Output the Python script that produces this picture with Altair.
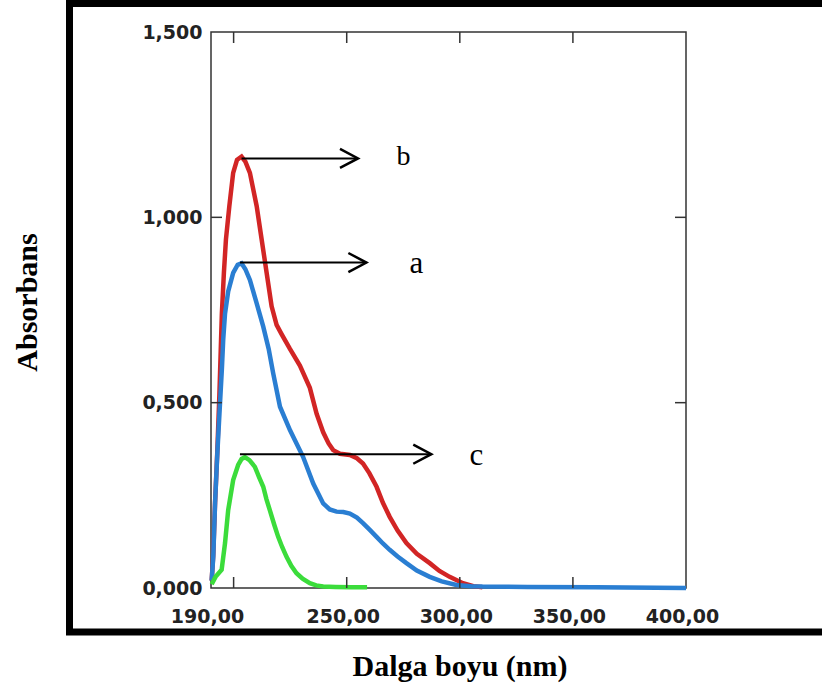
import altair as alt
import pandas as pd

# Absorption spectra (wavelength in nm, absorbance)
b_nm = [190.3, 191.0, 191.8, 192.8, 193.7, 194.3, 194.8, 195.7, 196.6, 198.1, 199.8, 201.5,
        203.5, 205.2, 207.2, 210.2, 212.4, 214.6, 216.8, 219.0, 221.2, 224.9, 229.3, 233.7,
        236.7, 239.6, 242.0, 244.0, 247.0, 251.4, 254.5, 257.2, 260.0, 263.2, 266.0, 269.0,
        272.5, 276.4, 281.0, 286.7, 291.0, 295.5, 301.4, 306.0, 310.0]
b_abs = [0.02, 0.09, 0.23, 0.37, 0.52, 0.64, 0.74, 0.85, 0.94, 1.03, 1.12, 1.155,
         1.164, 1.15, 1.12, 1.03, 0.94, 0.85, 0.76, 0.71, 0.685, 0.645, 0.60, 0.54,
         0.47, 0.42, 0.39, 0.372, 0.362, 0.359, 0.35, 0.336, 0.31, 0.273, 0.23, 0.192,
         0.155, 0.121, 0.092, 0.067, 0.046, 0.030, 0.013, 0.005, 0.002]

a_nm = [190.3, 191.0, 191.8, 192.8, 194.0, 194.8, 195.4, 196.2, 197.6, 199.8, 201.8, 203.5,
        205.2, 207.2, 210.2, 213.1, 215.5, 217.5, 220.5, 224.9, 230.7, 235.2, 239.6, 242.5,
        245.5, 248.5, 251.4, 254.5, 257.2, 260.0, 263.2, 266.0, 269.0, 272.5, 276.4, 281.0,
        286.7, 292.0, 298.5, 305.0, 310.0, 330.0, 360.0, 400.0]
a_abs = [0.02, 0.084, 0.23, 0.364, 0.50, 0.59, 0.67, 0.74, 0.80, 0.85, 0.872, 0.876,
         0.86, 0.831, 0.768, 0.705, 0.645, 0.579, 0.489, 0.426, 0.354, 0.282, 0.228, 0.212,
         0.206, 0.205, 0.201, 0.19, 0.175, 0.158, 0.138, 0.12, 0.103, 0.085, 0.067, 0.047,
         0.030, 0.018, 0.008, 0.005, 0.004, 0.003, 0.002, 0.0]

c_nm = [190.3, 192.0, 194.7, 196.2, 197.6, 199.8, 202.0, 203.5, 205.0, 207.0, 209.4, 211.2,
        213.1, 214.5, 216.0, 218.0, 219.7, 221.5, 223.4, 225.5, 227.8, 230.5, 233.7, 236.5,
        239.6, 245.0, 252.0, 259.0]
c_abs = [0.01, 0.03, 0.049, 0.121, 0.21, 0.291, 0.332, 0.348, 0.353, 0.345, 0.327, 0.30,
         0.273, 0.24, 0.21, 0.17, 0.138, 0.11, 0.084, 0.06, 0.040, 0.025, 0.013, 0.007,
         0.004, 0.003, 0.002, 0.002]

series_names = ["b", "a", "c"]
series_colors = ["#d22525", "#2a7ed2", "#3bdc3b"]

# Peak markers: arrow from the peak to the right, then the letter
arrow_name = ["b", "a", "c"]
arrow_start = [203.5, 202.8, 202.8]
arrow_end = [255.0, 258.7, 287.4]
arrow_y = [1.159, 0.878, 0.361]
label_x = [275.1, 280.8, 307.3]
label_y = [1.164, 0.874, 0.356]
label_size = [28, 31, 31]

x_label_values = [190, 250, 300, 350, 400]
x_tick_values = [200, 250, 300, 350]
y_label_values = [0.0, 0.5, 1.0, 1.5]
y_tick_values = [0.5, 1.0]

W, H = 475, 556
TICK = 11

rows = []
for name, xs, ys in [("b", b_nm, b_abs), ("a", a_nm, a_abs), ("c", c_nm, c_abs)]:
    for x, y in zip(xs, ys):
        rows.append({"series": name, "nm": x, "abs": y})
spectra = pd.DataFrame(rows)

arrows = pd.DataFrame({"name": arrow_name, "x1": arrow_start, "x2": arrow_end, "y": arrow_y})
labels = pd.DataFrame({"name": arrow_name, "x": label_x, "y": label_y, "size": label_size})

x_scale = alt.Scale(domain=[190, 400], nice=False, zero=False)
y_scale = alt.Scale(domain=[0, 1.5], nice=False)

x_axis = alt.Axis(
    values=x_label_values,
    labelExpr="replace(format(datum.value, '.2f'), '.', ',')",
    labelFont="DejaVu Sans", labelFontWeight="bold", labelFontSize=19,
    labelColor="#222222", labelPadding=19, labelOffset=-4,
    labelFlush=False, labelOverlap=False,
    ticks=False, domain=False, grid=False,
    title="Dalga boyu (nm)", titleFont="Liberation Serif", titleFontSize=30,
    titleFontWeight="bold", titleColor="#000000",
    titleX=248.5, titleY=87, titleBaseline="alphabetic", titleAlign="center",
)
y_axis = alt.Axis(
    values=y_label_values,
    labelExpr="replace(format(datum.value, '.3f'), '.', ',')",
    labelFont="DejaVu Sans", labelFontWeight="bold", labelFontSize=19,
    labelColor="#222222", labelPadding=9,
    labelFlush=False, labelOverlap=False,
    ticks=False, domain=False, grid=False,
    title="Absorbans", titleFont="Liberation Serif", titleFontSize=30,
    titleFontWeight="bold", titleColor="#000000",
    titleX=-175, titleY=270, titleAngle=270, titleBaseline="alphabetic",
    titleAlign="center",
)

lines = alt.Chart(spectra).mark_line(strokeWidth=4.5).encode(
    x=alt.X("nm:Q", scale=x_scale, axis=x_axis),
    y=alt.Y("abs:Q", scale=y_scale, axis=y_axis),
    color=alt.Color("series:N", scale=alt.Scale(domain=series_names, range=series_colors), legend=None),
    order=alt.Order("nm:Q"),
)

# Inward tick marks on all four sides of the frame
tick_style = dict(color="#333333", strokeWidth=1.5)
xt = pd.DataFrame({"t": x_tick_values})
yt = pd.DataFrame({"t": y_tick_values})
bottom_ticks = alt.Chart(xt).mark_rule(**tick_style).encode(
    x=alt.X("t:Q", scale=x_scale), y=alt.value(H), y2=alt.value(H - TICK))
top_ticks = alt.Chart(xt).mark_rule(**tick_style).encode(
    x=alt.X("t:Q", scale=x_scale), y=alt.value(0), y2=alt.value(TICK))
left_ticks = alt.Chart(yt).mark_rule(**tick_style).encode(
    y=alt.Y("t:Q", scale=y_scale), x=alt.value(0), x2=alt.value(TICK))
right_ticks = alt.Chart(yt).mark_rule(**tick_style).encode(
    y=alt.Y("t:Q", scale=y_scale), x=alt.value(W), x2=alt.value(W - TICK))

arrow_lines = alt.Chart(arrows).mark_rule(color="black", strokeWidth=2).encode(
    x=alt.X("x1:Q", scale=x_scale), x2="x2:Q", y=alt.Y("y:Q", scale=y_scale))
arrow_heads = alt.Chart(arrows).mark_point(
    shape="M-1,-0.53L0,0L-1,0.53", filled=False, color="black",
    strokeWidth=2.5, size=1300, opacity=1,
).encode(x=alt.X("x2:Q", scale=x_scale), y=alt.Y("y:Q", scale=y_scale))
arrow_text = alt.Chart(labels).mark_text(
    font="Liberation Serif", color="black", align="center", baseline="middle",
).encode(
    x=alt.X("x:Q", scale=x_scale), y=alt.Y("y:Q", scale=y_scale),
    text="name:N", size=alt.Size("size:Q", scale=None, legend=None),
)

# Heavy black outer frame
frame = alt.Chart(pd.DataFrame({"k": [0]})).mark_rect(
    fill=None, stroke="black", strokeWidth=7,
).encode(
    x=alt.value(69.5 - 211), x2=alt.value(850 - 211),
    y=alt.value(3.5 - 32), y2=alt.value(632 - 32),
)

chart = alt.layer(
    frame, lines, bottom_ticks, top_ticks, left_ticks, right_ticks,
    arrow_lines, arrow_heads, arrow_text,
).properties(
    width=W, height=H,
    autosize=alt.AutoSizeParams(type="none"),
    padding={"left": 211, "top": 32, "right": 136, "bottom": 98},
    background="white",
).configure_view(stroke="#333333", strokeWidth=1.5)

chart.save("out.html", embed_options={"renderer": "svg", "actions": False})
